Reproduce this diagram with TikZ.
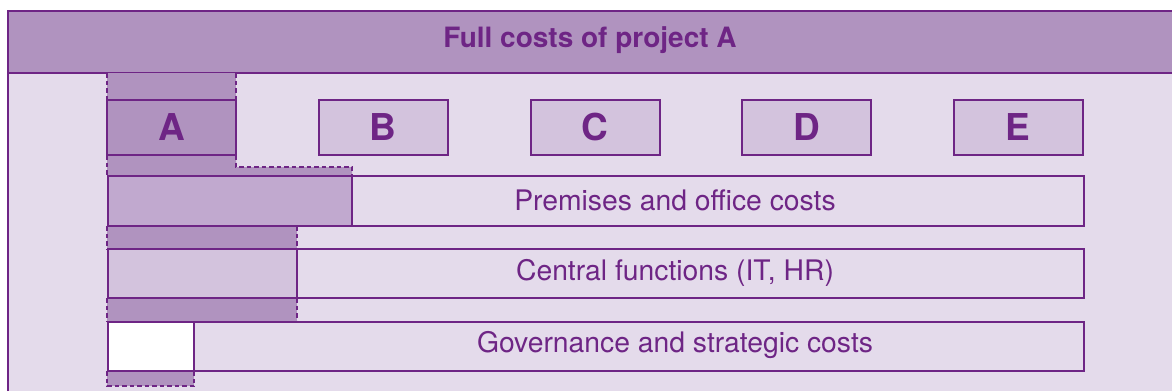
\documentclass[tikz,border=0pt]{standalone}
\usepackage{fontspec}
\setmainfont{TeX Gyre Heros}
\definecolor{plum}{HTML}{6E2585}
\definecolor{headfill}{HTML}{B093BF}
\definecolor{bodyfill}{HTML}{E4DBEB}
\definecolor{boxfill}{HTML}{D3C3DD}
\definecolor{midfill}{HTML}{C1A9CF}
\begin{document}
\begin{tikzpicture}[x=1pt,y=-1pt,
  letterbox/.style={draw=plum, line width=2pt, fill=boxfill, minimum width=129pt,
    minimum height=55pt, inner sep=0pt, text=plum, font=\fontsize{37}{42}\selectfont\bfseries},
  rowbox/.style={draw=plum, line width=1.6pt, minimum width=976pt, minimum height=49.5pt,
    inner sep=0pt, anchor=west},
  rowtext/.style={text=plum, font=\fontsize{28.3}{32}\selectfont, inner sep=0pt},
  share/.style={fill=headfill},
  shareedge/.style={draw=plum, line width=1.5pt, dash pattern=on 4.5pt off 3pt},
  divider/.style={draw=plum, line width=1.5pt}]
\useasboundingbox (0,0) rectangle (1172,391);
% page and panel
\fill[white] (0,0) rectangle (1172,391);
\fill[bodyfill] (8,11) rectangle (1172,391);
\fill[headfill] (8,11) rectangle (1172,73);
\draw[plum, line width=2pt] (8,391) -- (8,11) -- (1172,11);
\draw[plum, line width=1.5pt] (8,73) -- (1172,73);
\node[font=\fontsize{28}{32}\selectfont\bfseries, text=plum] (title) at (590,40.5) {Full costs of project A};

% project A's share running down through the cost rows
\fill[share] (107,73) rectangle (236,100);
\draw[shareedge] (107,73) -- (107,100) (236,73) -- (236,100);
\fill[share] (107,155) -- (236,155) -- (236,167) -- (352,167) -- (352,176) -- (107,176) -- cycle;
\draw[shareedge] (107,155) -- (107,176) (236,155) -- (236,167) -- (352,167) -- (352,176);
\fill[share] (107,226) rectangle (297,249);
\draw[shareedge] (107,226) -- (107,249) (297,226) -- (297,249);
\fill[share] (107,298) rectangle (297,322);
\draw[shareedge] (107,298) -- (107,322) (297,298) -- (297,322);
\fill[share] (107,371) rectangle (194,386);
\draw[shareedge] (107,371) -- (107,386) -- (194,386) -- (194,371);

% projects
\node[letterbox, fill=headfill] (pA) at (171.5,127.5) {A};
\node[letterbox] (pB) at (383,127.5) {B};
\node[letterbox] (pC) at (595,127.5) {C};
\node[letterbox] (pD) at (806.5,127.5) {D};
\node[letterbox] (pE) at (1018,127.5) {E};

% cost rows
\fill[midfill] (107,176) rectangle (352,226);
\draw[divider] (352,176) -- (352,226);
\node[rowbox] (premises) at (107,201) {};
\node[rowtext] (premisestext) at (675,200) {Premises and office costs};

\fill[boxfill] (107,249) rectangle (297,298);
\draw[divider] (297,249) -- (297,298);
\node[rowbox] (central) at (107,273.5) {};
\node[rowtext] (centraltext) at (675,272.5) {Central functions (IT, HR)};

\fill[white] (107,322) rectangle (194,371);
\draw[divider] (194,322) -- (194,371);
\node[rowbox] (governance) at (107,346.5) {};
\node[rowtext] (governancetext) at (675,345.5) {Governance and strategic costs};
\end{tikzpicture}
\end{document}
